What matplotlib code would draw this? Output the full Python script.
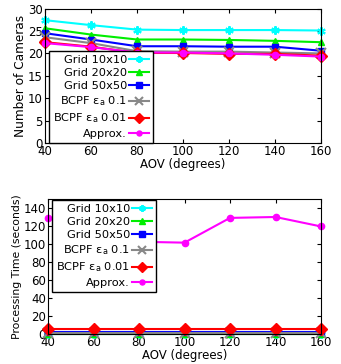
import matplotlib
matplotlib.use('Agg')
import matplotlib.pyplot as plt

aov = [40, 60, 80, 100, 120, 140, 160]
labels = ['Grid 10x10', 'Grid 20x20', 'Grid 50x50',
          'BCPF ε$_{\\rm a}$ 0.1', 'BCPF ε$_{\\rm a}$ 0.01', 'Approx.']

# number of cameras
cams_g10 = [27.4, 26.3, 25.3, 25.2, 25.2, 25.2, 25.1]
cams_g20 = [25.6, 24.2, 23.1, 23.1, 23.0, 22.8, 22.5]
cams_g50 = [24.5, 23.1, 21.6, 21.6, 21.5, 21.5, 20.6]
cams_b01 = [23.6, 22.3, 20.5, 20.4, 20.4, 20.2, 20.0]
cams_b001 = [22.5, 21.5, 20.1, 20.1, 19.9, 19.9, 19.5]
cams_apx = [22.3, 21.4, 20.2, 20.2, 20.0, 19.7, 19.3]

# processing time (seconds)
time_g10 = [0.2, 0.2, 0.2, 0.2, 0.2, 0.2, 0.2]
time_g20 = [0.4, 0.4, 0.4, 0.4, 0.4, 0.4, 0.4]
time_g50 = [2.5, 2.5, 2.5, 2.5, 2.5, 2.5, 2.5]
time_b01 = [0.8, 0.8, 0.8, 0.8, 0.8, 0.8, 0.8]
time_b001 = [6.0, 6.0, 6.0, 6.0, 6.0, 6.0, 6.0]
time_apx = [129, 129, 102.5, 101.5, 129, 130, 119.5]

colors = ['#00ffff', '#00ee00', '#0000ff', '#888888', '#ff0000', '#ff00ff']
markers = [(6, 2, 0), '^', 's', 'x', 'D', 'o']
msizes = [6, 5, 5, 7, 6, 4.5]

plt.rcParams['font.size'] = 8.5
plt.rcParams['mathtext.fontset'] = 'dejavusans'

fig = plt.figure(figsize=(3.41, 3.64), dpi=100)
ax1 = fig.add_axes([45 / 341, 1 - 143.3 / 364, 276 / 341, 134.8 / 364])
ax2 = fig.add_axes([48 / 341, 30 / 364, 273 / 341, 135 / 364])


def draw(ax, series, ylim, yticks, ylabel, ylsize, anchor):
    for ys, lab, c, m, ms in zip(series, labels, colors, markers, msizes):
        ax.plot(aov, ys, color=c, marker=m, markersize=ms, linewidth=1.5,
                markeredgewidth=1.5 if m in ('x', (6, 2, 0)) else 1,
                label=lab, clip_on=False)
    ax.set_xlim(40, 160)
    ax.set_ylim(*ylim)
    ax.set_xticks(aov)
    ax.set_yticks(yticks)
    ax.tick_params(direction='in', top=True, right=True, length=3, pad=1.5,
                   labelsize=8.5)
    ax.set_xlabel('AOV (degrees)', labelpad=0)
    ax.set_ylabel(ylabel, labelpad=1, fontsize=ylsize)
    leg = ax.legend(loc='upper left', bbox_to_anchor=anchor,
                    bbox_transform=fig.transFigure, markerfirst=False,
                    fancybox=False, framealpha=1, edgecolor='black',
                    borderpad=0.35, labelspacing=0.28, handlelength=1.7,
                    handletextpad=0.2, borderaxespad=0, fontsize=8.2,
                    markerscale=0.8)
    leg.get_frame().set_linewidth(1.0)


draw(ax1, [cams_g10, cams_g20, cams_g50, cams_b01, cams_b001, cams_apx],
     (0, 30), range(0, 31, 5), 'Number of Cameras', 8.7,
     (49 / 341, 1 - 51 / 364))
draw(ax2, [time_g10, time_g20, time_g50, time_b01, time_b001, time_apx],
     (0, 150), range(0, 141, 20), 'Processing Time (seconds)', 7.8,
     (52 / 341, 1 - 200 / 364))

fig.savefig('out.png', dpi=100)
